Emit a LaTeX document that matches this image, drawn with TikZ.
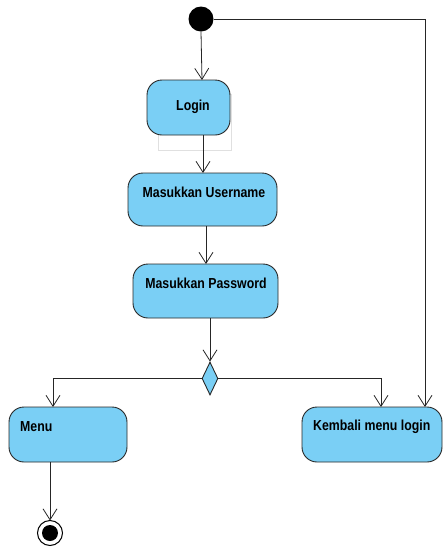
\documentclass[tikz,border=0pt]{standalone}
\usepackage{fontspec}
\setmainfont{Liberation Sans}
\newfontfamily\narrowbold[FakeStretch=0.85]{Liberation Sans Bold}
\usetikzlibrary{arrows.meta,shapes.geometric}
\definecolor{actfill}{RGB}{122,207,245}
\definecolor{actline}{RGB}{40,40,40}
\tikzset{
  act/.style={draw=actline,fill=actfill,line width=0.9pt,rounded corners=15pt},
  lbl/.style={font=\narrowbold\fontsize{14.5}{16}\selectfont,inner sep=0pt},
  flow/.style={draw=black!85,line width=0.8pt,-{Straight Barb[length=11pt,width=14pt,line width=0.8pt]}},
}
\begin{document}
\begin{tikzpicture}[x=1pt,y=-1pt]
\useasboundingbox (0,0) rectangle (443,550);
% start
\node[circle,fill=black,minimum size=25pt,inner sep=0pt] (start) at (201,19) {};
% faint artifact rectangle
\draw[black!12,line width=0.6pt] (158,94) rectangle (231,150);
% activities
\path[act] (147,80) rectangle (230,135);
\coordinate (loginT) at (202,80);
\coordinate (loginB) at (203,135);
\node[lbl] (login) at (193,107) {Login};

\path[act] (128,173) rectangle (277,226);
\coordinate (userT) at (203,173);
\coordinate (userB) at (206,226);
\node[lbl] (user) at (204,192) {Masukkan Username};

\path[act] (133,264) rectangle (278,318);
\coordinate (passT) at (206,264);
\coordinate (passB) at (210,318);
\node[lbl] (pass) at (206,283) {Masukkan Password};

% decision
\node[diamond,draw=actline,fill=actfill,line width=0.9pt,minimum width=16pt,minimum height=33pt,inner sep=0pt,aspect=0.5] (dec) at (210,378.5) {};

\path[act] (9,407) rectangle (127,462);
\coordinate (menuT) at (53,407);
\coordinate (menuB) at (50,462);
\node[lbl,anchor=west] (menu) at (20,427) {Menu};

\path[act] (302,407) rectangle (442,462);
\coordinate (kembT) at (381,407);
\coordinate (kembT2) at (425,407);
\node[lbl,anchor=west] (kemb) at (313,427) {Kembali menu login};

% end
\node[circle,draw=black,line width=1pt,fill=white,minimum size=25pt,inner sep=0pt] (end) at (50,533) {};
\node[circle,fill=black,minimum size=16pt,inner sep=0pt] at (end) {};
\coordinate (endT) at (50,520.5);

% flows
\draw[flow] (start.south) -- (loginT);
\draw[flow] (loginB) -- (userT);
\draw[flow] (userB) -- (passT);
\draw[flow] (passB) -- (dec.north);
\draw[flow] (dec.west) -| (menuT);
\draw[flow] (dec.east) -| (kembT);
\draw[flow] (start.east) -| (kembT2);
\draw[flow] (menuB) -- (endT);
\end{tikzpicture}
\end{document}
